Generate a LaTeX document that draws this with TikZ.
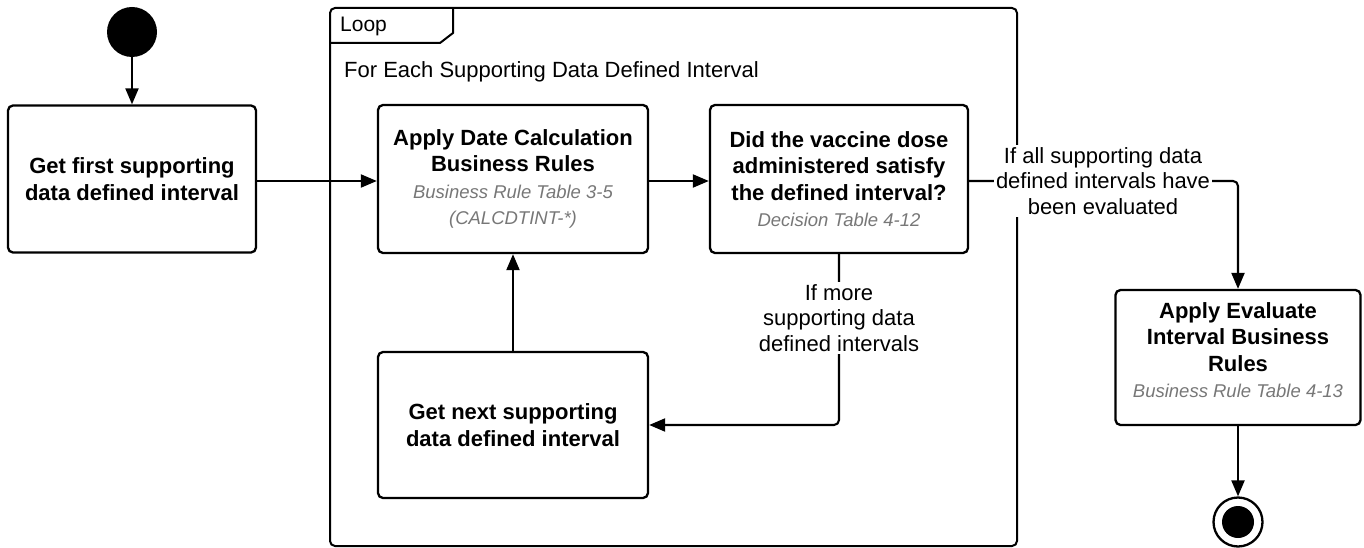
\documentclass[tikz,border=0pt]{standalone}
\usepackage{fontspec}
\setmainfont{Liberation Sans}
\usetikzlibrary{arrows.meta}
\definecolor{subgray}{HTML}{777777}
\tikzset{
  box/.style={draw, line width=2.3pt, rounded corners=5pt, inner sep=0pt, align=center,
    font=\fontsize{22}{26.5}\selectfont\bfseries},
  boxtext/.style={inner sep=0pt, align=center, font=\fontsize{22}{26.5}\selectfont\bfseries},
  arr/.style={line width=2.1pt, -{Triangle[length=16pt,width=13pt]}, rounded corners=5pt},
  lbl/.style={fill=white, inner sep=2pt, align=center, font=\fontsize{22}{25.5}\selectfont}
}
\newcommand{\subtxt}[1]{{\fontsize{18.5}{25}\selectfont\mdseries\itshape\color{subgray}#1}}
\begin{document}
\begin{tikzpicture}[x=1pt,y=-1pt]
\useasboundingbox (0,0) rectangle (1364,548);
% loop frame
\draw[line width=2pt, rounded corners=5pt] (330,8) rectangle (1017,546);
\draw[line width=2pt] (330,43) -- (440,43) -- (453,33) -- (453,8);
\node[anchor=base west, inner sep=0pt, font=\fontsize{21}{24}\selectfont] (looplbl) at (340,32) {Loop};
\node[anchor=base west, inner sep=0pt, font=\fontsize{22}{24}\selectfont] (loopcond) at (344,78) {For Each Supporting Data Defined Interval};
% nodes
\node[circle, fill=black, minimum size=50pt, inner sep=0pt] (start) at (132,32) {};
\node[box, minimum width=248pt, minimum height=147pt] (A) at (132,179) {Get first supporting\\data defined interval};
\node[box, minimum width=270pt, minimum height=148pt] (B) at (513,179) {Apply Date Calculation\\Business Rules\\\subtxt{Business Rule Table 3-5}\\\subtxt{(CALCDTINT-*)}};
\node[box, minimum width=258pt, minimum height=148pt] (C) at (839,179) {Did the vaccine dose\\administered satisfy\\the defined interval?\\\subtxt{Decision Table 4-12}};
\node[box, minimum width=270pt, minimum height=146pt] (D) at (513,425) {Get next supporting\\data defined interval};
\node[box, minimum width=245pt, minimum height=135pt] (E) at (1238,357.5) {};
\node[boxtext] (Etext) at (1238,350) {Apply Evaluate\\Interval Business\\Rules\\\subtxt{Business Rule Table 4-13}};
\node[circle, draw, line width=2.3pt, minimum size=49pt, inner sep=0pt] (end) at (1238,522) {};
\node[circle, fill=black, minimum size=32pt, inner sep=0pt] (endin) at (1238,522) {};
% connectors
\draw[arr] (start.south) -- (start.south |- A.north);
\draw[arr] (A.east |- 0,181) -- (B.west |- 0,181);
\draw[arr] (B.east |- 0,181) -- (C.west |- 0,181);
\draw[arr] (D.north) -- (B.south);
\draw[arr] (C.south) -- (C.south |- D.east) -- (D.east);
\draw[arr] (C.east |- 0,181) -- (1238,181) -- (E.north);
\draw[arr] (E.south) -- (end.north);
% labels
\node[lbl] (lblmore) at (839,318) {If more\\supporting data\\defined intervals};
\node[lbl] (lblall) at (1103,181) {If all supporting data\\defined intervals have\\been evaluated};
\end{tikzpicture}
\end{document}
